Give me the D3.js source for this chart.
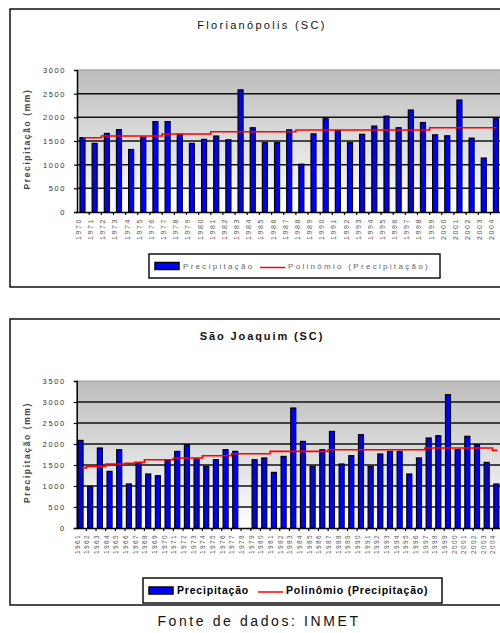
<!DOCTYPE html>
<html><head><meta charset="utf-8">
<script src="https://cdn.jsdelivr.net/npm/d3@7"></script>
<style>
html,body{margin:0;padding:0;background:#fff;}
text{font-family:"Liberation Sans",Arial,sans-serif;}
</style></head>
<body><svg id="c" width="500" height="633"></svg>
<script>
// ---- Data ----
const years1 = ["1970","1971","1972","1973","1974","1975","1976","1977","1978","1979","1980","1981","1982","1983","1984","1985","1986","1987","1988","1989","1990","1991","1992","1993","1994","1995","1996","1997","1998","1999","2000","2001","2002","2003","2004"];
const precip1 = [1570,1450,1660,1740,1320,1580,1910,1910,1640,1450,1535,1605,1525,2580,1780,1465,1465,1735,1010,1650,1970,1720,1465,1640,1815,2025,1780,2155,1890,1630,1610,2365,1560,1140,1970];
const trend1 = [1570,1570,1606,1606,1606,1606,1606,1648,1648,1648,1648,1697,1697,1697,1697,1697,1697,1697,1732,1732,1732,1732,1732,1732,1732,1732,1732,1732,1732,1781,1781,1781,1781,1781,1781];
const yTicks1 = [0,500,1000,1500,2000,2500,3000];

const years2 = ["1961","1962","1963","1964","1965","1966","1967","1968","1969","1970","1971","1972","1973","1974","1975","1976","1977","1978","1979","1980","1981","1982","1983","1984","1985","1986","1987","1988","1989","1990","1991","1992","1993","1994","1995","1996","1997","1998","1999","2000","2001","2002","2003","2004"];
const precip2 = [2086,990,1905,1348,1864,1048,1548,1286,1245,1610,1824,1983,1643,1467,1626,1864,1824,null,1626,1667,1324,1705,2857,2062,1467,1864,2300,1524,1721,2221,1467,1762,1824,1824,1286,1667,2143,2198,3174,1864,2183,1983,1562,1048];
const trend2 = [1430,1467,1467,1524,1524,1540,1562,1626,1626,1626,1667,1667,1667,1721,1721,1721,1769,1769,1769,1769,1824,1824,1824,1824,1824,1824,1864,1864,1864,1864,1864,1864,1864,1864,1864,1864,1905,1905,1905,1905,1905,1905,1905,1848];
const yTicks2 = [0,500,1000,1500,2000,2500,3000,3500];

const titles = ["Florianópolis (SC)", "São Joaquim (SC)"];
const yTitle = "Precipitação (mm)";
const legendBar = "Precipitação";
const legendLine = "Polinômio (Precipitação)";
const source = "Fonte de dados: INMET";

const svg = d3.select("#c");
const defs = svg.append("defs");
const grad = defs.append("linearGradient").attr("id","bg").attr("x1",0).attr("y1",0).attr("x2",0).attr("y2",1);
grad.append("stop").attr("offset","0%").attr("stop-color","#bcbcbc");
grad.append("stop").attr("offset","100%").attr("stop-color","#ffffff");

function drawChart(o){
  const g = svg.append("g");
  g.append("rect").attr("x",o.box[0]).attr("y",o.box[1]).attr("width",520).attr("height",o.box[2]-o.box[1])
    .attr("fill","#fff").attr("stroke","#111").attr("stroke-width",1.5);
  g.append("text").attr("x",262).attr("y",o.titleY).attr("text-anchor","middle")
    .attr("font-size",11).attr("letter-spacing",o.titleSpacing).attr("font-weight",o.titleWeight).attr("fill","#111").text(o.title);

  const x = d3.scaleBand().domain(o.years).range([o.left, o.left + o.years.length*o.step]).paddingInner(0).paddingOuter(0);
  const y = d3.scaleLinear().domain([0, o.yTicks[o.yTicks.length-1]]).range([o.bottom, o.top]);
  const right = o.left + o.years.length*o.step;

  g.append("rect").attr("x",o.left).attr("y",o.top).attr("width",right-o.left).attr("height",o.bottom-o.top).attr("fill","url(#bg)");
  g.append("line").attr("x1",o.left).attr("x2",right).attr("y1",o.top).attr("y2",o.top).attr("stroke","#999").attr("stroke-width",1);
  g.selectAll(".grid").data(o.yTicks.slice(1,-1)).join("line")
    .attr("x1",o.left).attr("x2",right).attr("y1",d=>y(d)).attr("y2",d=>y(d))
    .attr("stroke","#111").attr("stroke-width",1.5);

  g.selectAll(".bar").data(o.values.map((v,i)=>({v,yr:o.years[i]})).filter(d=>d.v!=null)).join("rect")
    .attr("x",d=>x(d.yr)+x.bandwidth()/2 - o.barShift - o.barW/2)
    .attr("y",d=>y(d.v)).attr("width",o.barW).attr("height",d=>o.bottom-y(d.v))
    .attr("fill","#0000ff").attr("stroke","#000").attr("stroke-width",1.2);

  const line = d3.line().x((d,i)=>x(o.years[i])+x.bandwidth()/2).y(d=>y(d)).curve(d3.curveStep);
  g.append("path").attr("d",line(o.trend)).attr("fill","none").attr("stroke","#ff0000").attr("stroke-width",1.6);

  const ya = d3.axisLeft(y).tickValues(o.yTicks).tickSize(3).tickPadding(7).tickFormat(d3.format("d"));
  const yg = g.append("g").attr("transform",`translate(${o.left},0)`).call(ya);
  yg.select(".domain").attr("stroke","#000").attr("stroke-width",1.5);
  yg.selectAll(".tick line").attr("stroke","#000").attr("stroke-width",1.2);
  yg.selectAll(".tick text").attr("font-size",7.5).attr("letter-spacing",1.6).attr("fill","#333")
    .attr("font-family","'Liberation Sans',Arial,sans-serif").attr("dx","-1");
  yg.selectAll(".tick").filter(d=>d===o.yTicks[o.yTicks.length-1]).select("line").remove();

  const xa = d3.axisBottom(x).tickSize(0).tickPadding(4);
  const xg = g.append("g").attr("transform",`translate(0,${o.bottom})`).call(xa);
  xg.select(".domain").attr("stroke","#000").attr("stroke-width",1.5);
  xg.selectAll(".tick text").attr("font-size",o.xFont).attr("fill","#555").attr("letter-spacing",o.xSp)
    .attr("font-family","'Liberation Sans',Arial,sans-serif")
    .attr("transform","rotate(-90)").attr("text-anchor","end").attr("dx","-4").attr("dy","-0.3em").attr("y",0).attr("x",-2);
  g.selectAll(".bt").data(o.years.slice(1)).join("line")
    .attr("x1",d=>x(d)).attr("x2",d=>x(d)).attr("y1",o.bottom).attr("y2",o.bottom+3)
    .attr("stroke","#000").attr("stroke-width",1.2);

  g.append("text").attr("transform",`translate(30,${(o.top+o.bottom)/2-2}) rotate(-90)`).attr("text-anchor","middle")
    .attr("font-size",8.5).attr("letter-spacing",1.6).attr("font-weight","bold").attr("fill","#444").text(yTitle);

  const L = o.legend;
  g.append("rect").attr("x",L.x).attr("y",L.y).attr("width",L.w).attr("height",L.h).attr("fill","#fff").attr("stroke","#111").attr("stroke-width",1.5);
  g.append("rect").attr("x",L.x+6).attr("y",L.y+L.h/2-3.5).attr("width",24).attr("height",7).attr("fill","#0000ff").attr("stroke","#000").attr("stroke-width",1.5);
  g.append("text").attr("x",L.x+34).attr("y",L.y+L.h/2+3.2).attr("font-size",L.font).attr("fill",L.color).attr("font-weight",L.weight).attr("letter-spacing",L.sp).text(legendBar);
  g.append("line").attr("x1",L.lx).attr("x2",L.lx+25).attr("y1",L.y+L.h/2+1.5).attr("y2",L.y+L.h/2+1.5).attr("stroke","#ff0000").attr("stroke-width",1.5);
  g.append("text").attr("x",L.lx+28).attr("y",L.y+L.h/2+3.2).attr("font-size",L.font).attr("fill",L.color).attr("font-weight",L.weight).attr("letter-spacing",L.sp).text(legendLine);
}

drawChart({title:titles[0], titleY:29, titleSpacing:2.3, titleWeight:"normal", box:[10,9,287],
  years:years1, values:precip1, trend:trend1, yTicks:yTicks1,
  left:77, step:12.16, top:70, bottom:212, barW:5, barShift:0.6, xFont:7, xSp:1.6,
  legend:{x:149,y:254,w:291,h:24,lx:260,font:8,color:"#666",weight:"normal",sp:2.3}});

drawChart({title:titles[1], titleY:340, titleSpacing:1.9, titleWeight:"bold", box:[10,319,605],
  years:years2, values:precip2, trend:trend2, yTicks:yTicks2,
  left:76.7, step:9.67, top:381, bottom:528, barW:5, barShift:1, xFont:6.5, xSp:1.4,
  legend:{x:143,y:578,w:299,h:25,lx:258,font:10.5,color:"#000",weight:"bold",sp:0.8}});

svg.append("text").attr("x",259).attr("y",626).attr("text-anchor","middle").attr("font-size",14)
  .attr("letter-spacing",2.6).attr("fill","#111").text(source);
</script></body></html>
